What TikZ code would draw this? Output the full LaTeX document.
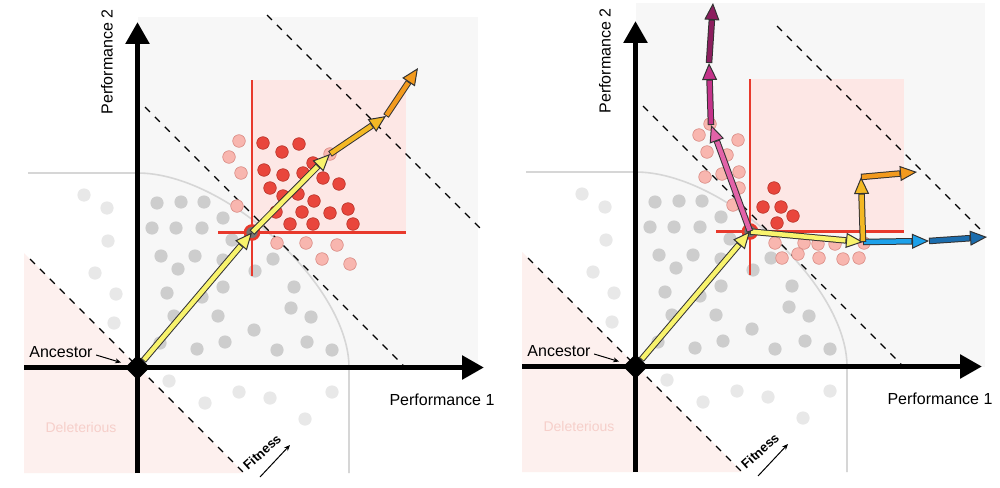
\documentclass[tikz,border=0pt]{standalone}
\usepackage{fontspec}
\setmainfont{Liberation Sans}
\usepackage{tikz}
\usetikzlibrary{arrows.meta,shapes.geometric}

\definecolor{bggrey}{HTML}{F7F7F7}
\definecolor{delpink}{HTML}{FDF0EE}
\definecolor{deltext}{HTML}{F6CFCA}
\definecolor{boxpink}{HTML}{FDE7E5}
\definecolor{crossred}{HTML}{E8392C}
\definecolor{arcgrey}{HTML}{D6D6D6}
\definecolor{dotgrey}{HTML}{CDCDCD}
\definecolor{dotlight}{HTML}{E8E8E8}
\definecolor{dotred}{HTML}{E9463C}
\definecolor{dotredline}{HTML}{B8352C}
\definecolor{dotpink}{HTML}{F8B6AF}
\definecolor{dotpinkline}{HTML}{D98B84}
\definecolor{arryellow}{HTML}{F8F36C}
\definecolor{arrgold}{HTML}{F3B824}
\definecolor{arrorange}{HTML}{F29A1E}
\definecolor{arrblue}{HTML}{1DA1EA}
\definecolor{arrnavy}{HTML}{1B6DAE}
\definecolor{arrpink}{HTML}{E262A8}
\definecolor{arrmag}{HTML}{C4338A}
\definecolor{arrplum}{HTML}{8C1E5E}

\begin{document}
\begin{tikzpicture}[x=1pt,y=-1pt,font=\fontsize{16}{19}\selectfont]
  \tikzstyle{axis} = [line width=5.5pt, -{Triangle[length=22pt,width=23pt]}]
  \tikzstyle{fitline} = [line width=1.2pt, dash pattern=on 7pt off 7pt]
  \tikzstyle{cross} = [crossred, line width=2.2pt]
  \tikzstyle{pointer} = [line width=1pt, -{Stealth[length=6pt,width=5pt]}]
  \tikzstyle{ring} = [circle, fill=black!55, draw=crossred, line width=2.6pt, minimum size=14pt, inner sep=0pt]
  \tikzstyle{reddot} = [fill=dotred, draw=dotredline, line width=0.6pt]
  \tikzstyle{pinkdot} = [fill=dotpink, draw=dotpinkline, line width=0.6pt]
  \tikzset{fat/.style={line width=6.5pt, draw=black!80,
      -{Triangle[length=17pt,width=15pt,line width=1pt,fill=#1]},
      postaction={draw=#1, line width=4.5pt, -, shorten >=17.7pt, shorten <=1pt}}}

  % background, fitness lines, grey population, target box
  \def\panelback#1#2#3{
    \fill[bggrey] (137.5,#1) rectangle (#2,367.5);
    \fill[delpink] (24,253) -- (244,473) -- (24,473) -- cycle;
    \fill[boxpink] (252,80) rectangle (406,232.5);
    \draw[arcgrey, line width=1.6pt] (28,173) -- (137.5,173)
      .. controls (226,173) and (349,286) .. (349,367.5) -- (349,473);
    \draw[fitline] (30,259) -- (243,472);
    \draw[fitline] (145,107) -- (403,365);
    \draw[fitline] (#3,{#3-252}) -- (482,230);
    \foreach \x/\y in {157/203,181/202,204/202,223/218,152/228,176/228,202/228,232/240,
        161/256,195/256,178/269,223/260,273/259,255/271,167/293,202/297,223/287,294/287,
        174/316,218/316,291/308,311/317,254/330,160/343,197/349,225/342,277/350,307/342,332/350}
      \fill[dotgrey] (\x,\y) circle[radius=6.6pt];
    \foreach \x/\y in {84/195,107/208,108/241,95/273,116/294,114/323,
        169/381,205/403,239/392,270/398,332/392,305/419}
      \fill[dotlight] (\x,\y) circle[radius=6.6pt];
    \draw[cross] (252,80) -- (252,276);
    \draw[cross] (218,232.5) -- (406,232.5);
  }

  % axes and labels
  \def\panelaxes{
    \coordinate (O) at (137.5,367.5);
    \coordinate (XL) at (24,367.5);
    \coordinate (XR) at (484,367.5);
    \coordinate (YB) at (137.5,473);
    \coordinate (YT) at (137.5,22);
    \draw[axis] (XL) -- (XR);
    \draw[axis] (YB) -- (YT);
    \node[diamond, fill=black, minimum width=25pt, minimum height=25pt, inner sep=0pt] (anc) at (O) {};
    \node (p1) at (442,400) {Performance 1};
    \node[rotate=90] (p2) at (107,62) {Performance 2};
    \node (ancl) at (61,352) {Ancestor};
    \draw[pointer, shorten >=7pt] ([yshift=-3pt]ancl.east) -- (anc);
    \node[text=deltext, font=\fontsize{14}{16}\selectfont] (del) at (81,427) {Deleterious};
    \node[rotate=42, font=\bfseries\fontsize{13}{15}\selectfont] (fit) at (262,452) {Fitness};
    \coordinate (F1) at (260,477);
    \coordinate (F2) at (290,445);
    \draw[pointer] (F1) -- (F2);
  }

  \fill[white] (0,0) rectangle (1000,487);
  \useasboundingbox (0,0) rectangle (1000,487);

  % left panel
  \begin{scope}[name prefix=L-]
    \panelback{17}{478}{267}
    \foreach \x/\y in {263/143,282/152,299/144,264/170,283/175,303/173,313/163,323/178,339/184,
        270/188,283/196,298/194,314/201,276/212,302/212,330/213,348/209,290/224,313/224,353/224}
      \filldraw[reddot] (\x,\y) circle[radius=6.3pt];
    \foreach \x/\y in {239/141,229/157,241/173,237/206,277/243,306/243,337/245,322/259,350/264,330/154}
      \filldraw[pinkdot] (\x,\y) circle[radius=6.3pt];
    \panelaxes
    \coordinate (X) at (252,232.5);
    \node[ring] (R) at (X) {};
    \coordinate (A1) at (330,154);
    \coordinate (A2) at (386,116);
    \coordinate (A3) at (418,68);
    \draw[fat=arryellow] (anc) -- (X);
    \draw[fat=arryellow] (X) -- (A1);
    \draw[fat=arrgold] (A1) -- (A2);
    \draw[fat=arrorange] (A2) -- (A3);
  \end{scope}

  % right panel
  \begin{scope}[shift={(498,-1)}, name prefix=R-]
    \panelback{4}{487}{279}
    \foreach \x/\y in {276/189,265/208,283/208,295/217,279/224}
      \filldraw[reddot] (\x,\y) circle[radius=6.3pt];
    \foreach \x/\y in {212/125,201/136,240/141,209/153,229/156,207/178,224/175,241/173,241/189,235/206,
        277/244,306/244,320/245,337/245,366/244,284/259,300/255,321/259,345/260,361/259}
      \filldraw[pinkdot] (\x,\y) circle[radius=6.3pt];
    \panelaxes
    \coordinate (X) at (252,232.5);
    \node[ring] (R) at (X) {};
    \coordinate (Y1) at (365,243);
    \coordinate (B1) at (431,242);
    \coordinate (B2) at (489,238);
    \coordinate (G1) at (363,178);
    \coordinate (G2) at (419,173);
    \coordinate (P1) at (213,126);
    \coordinate (P2) at (211,64);
    \coordinate (P3) at (215,4);
    \draw[fat=arryellow] (anc) -- (X);
    \draw[fat=arryellow] (X) -- (Y1);
    \draw[fat=arrblue] (Y1) -- (B1);
    \draw[fat=arrnavy] (B1) -- (B2);
    \draw[fat=arrgold] (Y1) -- (G1);
    \draw[fat=arrorange] (G1) -- (G2);
    \draw[fat=arrpink] (X) -- (P1);
    \draw[fat=arrmag] (P1) -- (P2);
    \draw[fat=arrplum] (P2) -- (P3);
  \end{scope}
\end{tikzpicture}
\end{document}
